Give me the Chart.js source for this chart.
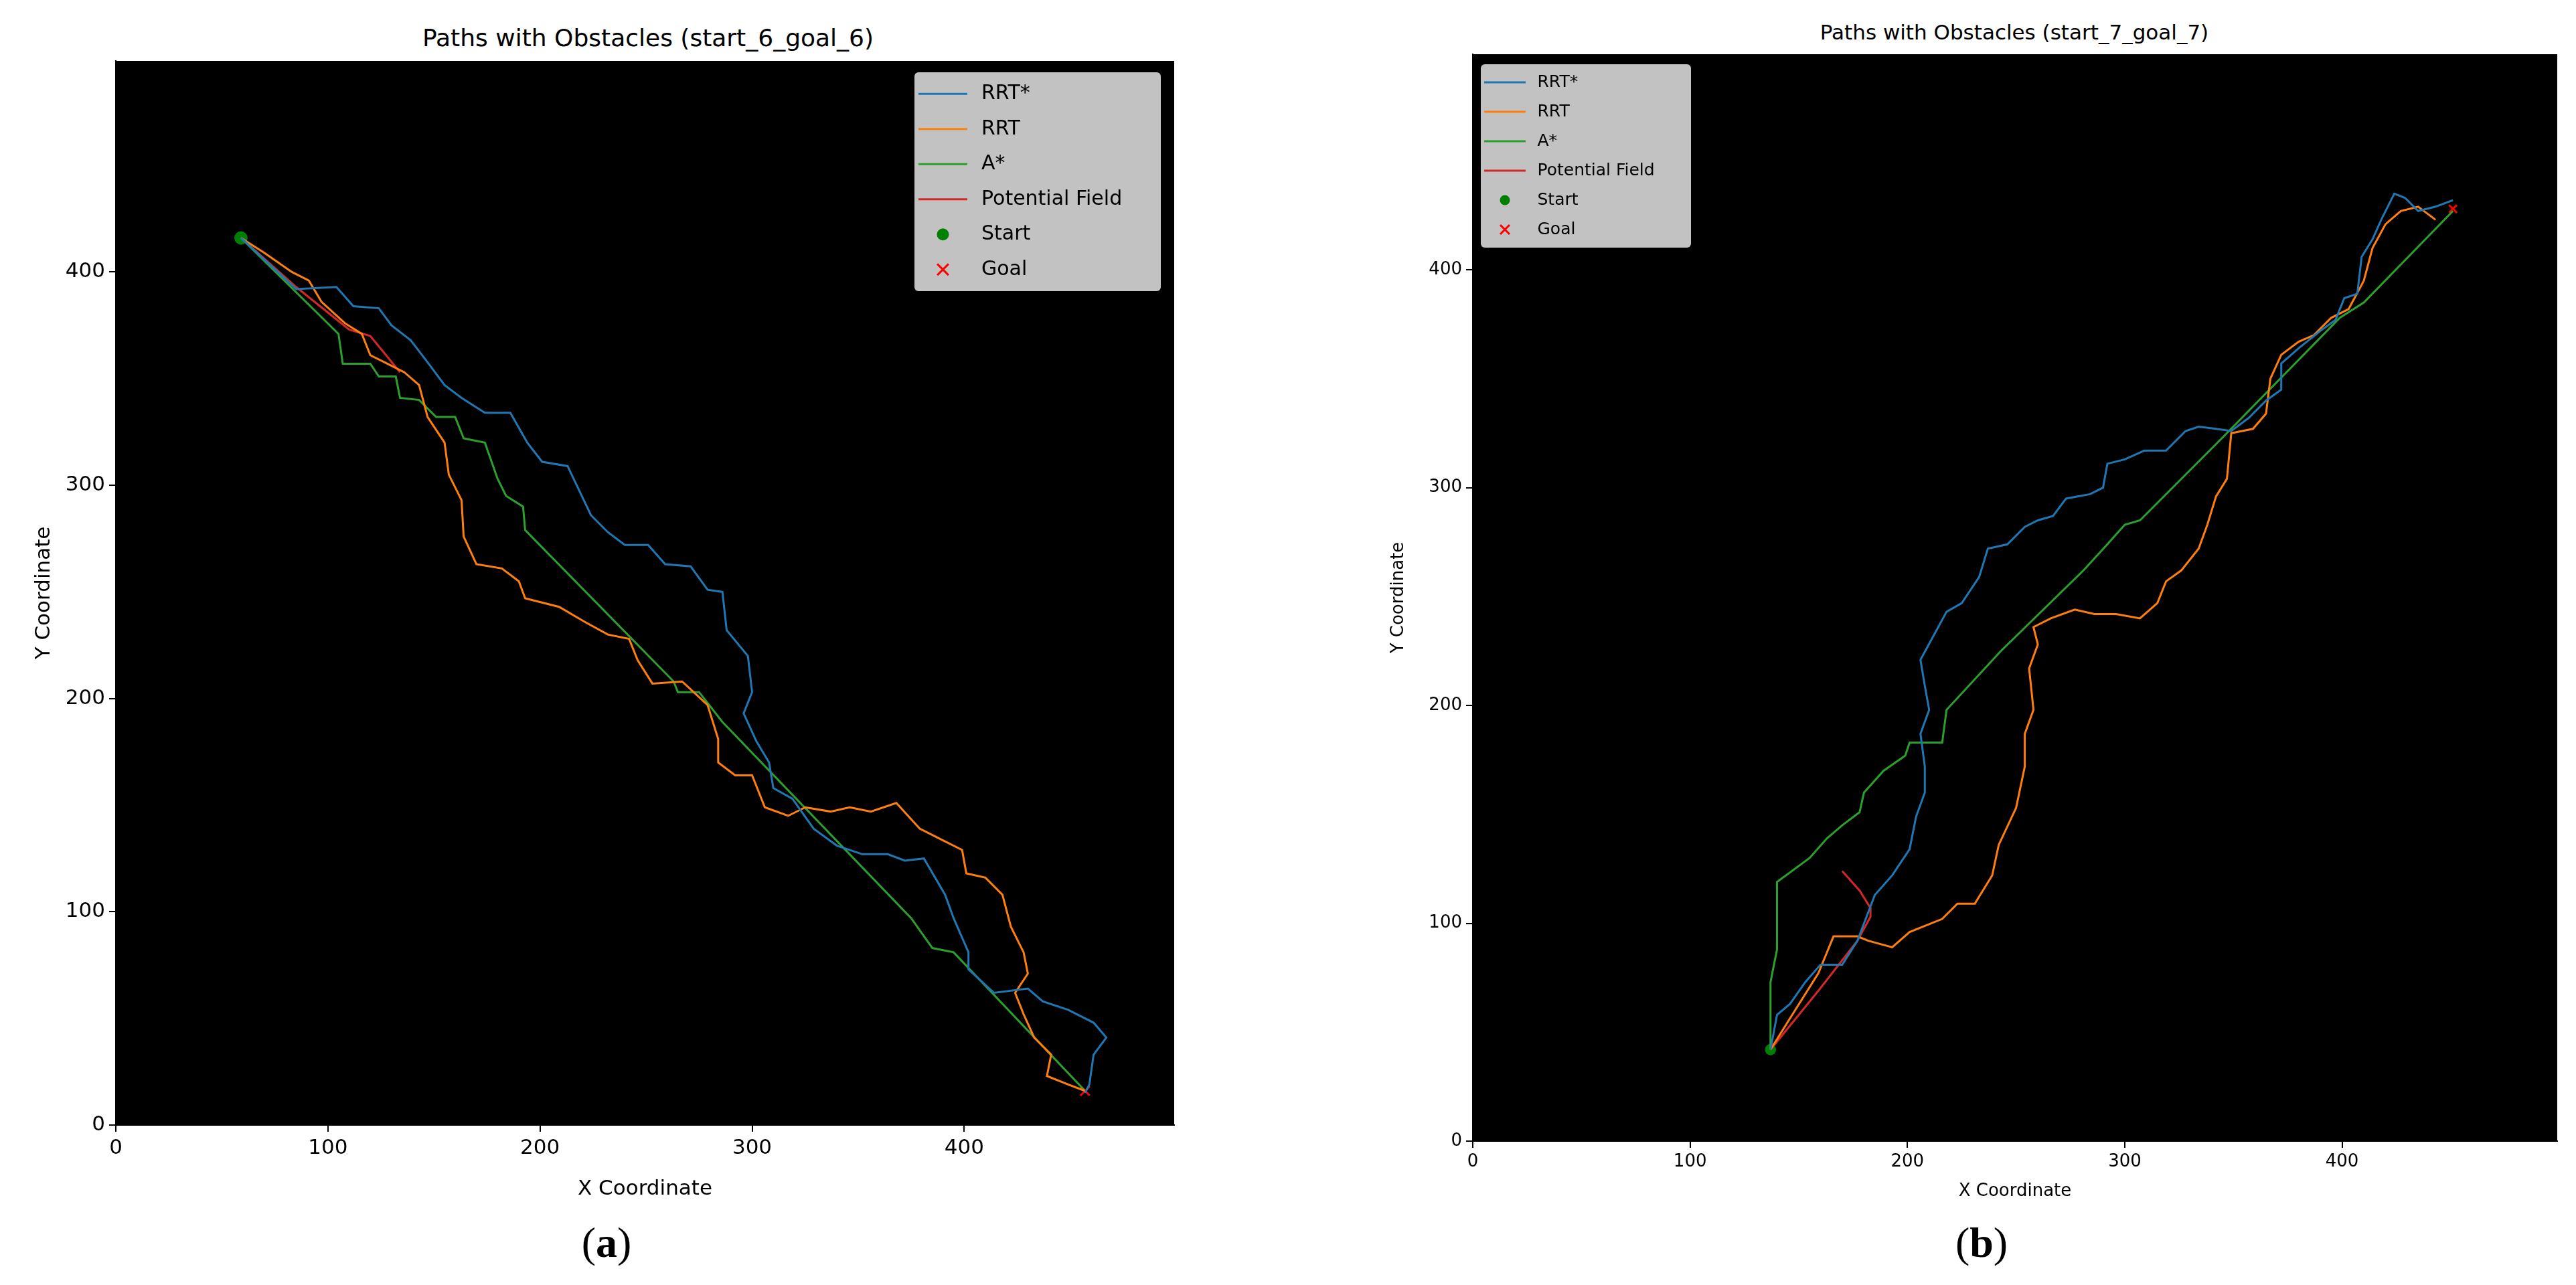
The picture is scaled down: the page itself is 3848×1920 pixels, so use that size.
<!DOCTYPE html>
<html>
<head>
<meta charset="utf-8">
<script src="https://cdn.jsdelivr.net/npm/chart.js@4.4.1/dist/chart.umd.min.js"></script>
<style>
  body { margin: 0; background: #fff; width: 3848px; height: 1920px; position: relative; overflow: hidden; }
  .box { position: absolute; }
  .title { position: absolute; font-family: "DejaVu Sans"; color: #000; transform: translateX(-50%); white-space: nowrap; }
  .cap { position: absolute; font-family: "Liberation Serif"; font-size: 64px; transform: translateX(-50%); }
</style>
</head>
<body>
<div class="title" style="left:968px; top:36px; font-size:36px;">Paths with Obstacles (start_6_goal_6)</div>
<div class="title" style="left:3009px; top:30px; font-size:31px;">Paths with Obstacles (start_7_goal_7)</div>
<div class="box" style="left:0; top:0; width:1860px; height:1800px;"><canvas id="chartA"></canvas></div>
<div class="box" style="left:1924px; top:0; width:1924px; height:1800px;"><canvas id="chartB"></canvas></div>
<div class="cap" style="left:906px; top:1820px;">(<b>a</b>)</div>
<div class="cap" style="left:2960px; top:1820px;">(<b>b</b>)</div>
<script>
// ---- chart (a): start_6_goal_6 ----
const rrtStarA = [[59,416],[85,392],[104,393],[112,384],[124,383],[130,375],[139,368],[146,359],[155,347],[163,341],[174,334],[186,334],[194,320],[201,311],[213,309],[224,286],[232,278],[240,272],[251,272],[259,263],[271,262],[279,251],[286,250],[288,232],[298,220],[300,203],[296,193],[302,180],[308,170],[310,158],[319,153],[329,139],[340,131],[352,127],[364,127],[372,124],[381,125],[391,108],[395,97],[402,81],[402,73],[414,62],[430,64],[437,58],[449,54],[461,48],[467,41],[461,33],[459,19],[457,15]];
const rrtA = [[59,416],[70,409],[83,400],[91,396],[97,386],[108,376],[116,371],[120,361],[128,357],[136,353],[143,347],[147,332],[155,320],[157,305],[163,293],[164,276],[170,263],[182,261],[190,255],[193,247],[209,243],[221,236],[232,230],[242,228],[246,218],[253,207],[267,208],[279,197],[284,181],[284,170],[292,164],[300,164],[306,149],[317,145],[325,149],[337,147],[346,149],[356,147],[368,151],[379,139],[387,135],[399,129],[401,118],[410,116],[418,108],[422,93],[428,81],[430,71],[424,62],[428,52],[433,41],[441,33],[439,23],[449,19],[457,16]];
const aStarA = [[59,416],[105,371],[107,357],[120,357],[124,351],[132,351],[134,341],[143,340],[151,332],[160,332],[164,322],[174,320],[180,303],[184,295],[192,290],[193,279],[263,208],[265,203],[275,203],[286,189],[375,97],[385,83],[395,81],[457,16]];
const fieldA = [[59,416],[85,393],[100,381],[110,373],[120,370],[134,353]];
const startA = [59, 416];
const goalA = [457, 16];

// ---- chart (b): start_7_goal_7 ----
const rrtStarB = [[137,42],[140,58],[146,63],[153,73],[160,81],[170,81],[177,92],[185,113],[193,122],[201,134],[204,149],[208,160],[208,172],[206,187],[210,198],[208,209],[206,221],[212,232],[218,243],[225,247],[233,259],[237,272],[246,274],[254,282],[260,285],[267,287],[273,295],[284,297],[290,300],[292,311],[300,313],[309,317],[319,317],[328,326],[334,328],[342,327],[349,326],[357,332],[365,340],[372,345],[372,357],[380,364],[390,372],[397,377],[401,387],[407,389],[409,406],[414,414],[418,423],[424,435],[429,433],[435,427],[443,429],[451,432]];
const rrtB = [[137,42],[147,58],[159,77],[166,94],[177,94],[182,92],[193,89],[201,96],[216,102],[223,109],[231,109],[239,122],[242,136],[250,153],[254,172],[254,187],[258,198],[256,217],[260,228],[258,236],[266,240],[277,244],[286,242],[296,242],[307,240],[315,247],[319,257],[326,262],[334,272],[338,283],[342,296],[347,304],[349,325],[359,327],[365,334],[367,350],[372,361],[380,367],[387,370],[395,378],[403,382],[410,395],[414,410],[420,421],[427,427],[435,429],[443,423]];
const aStarB = [[137,42],[137,73],[140,88],[140,119],[155,130],[163,139],[170,145],[178,151],[180,160],[189,170],[199,177],[201,183],[216,183],[218,198],[243,225],[281,262],[292,274],[300,283],[307,285],[345,323],[399,378],[410,385],[451,427]];
const fieldB = [[137,42],[159,69],[177,92],[183,103],[183,107],[178,115],[170,124]];
const startB = [137, 42];
const goalB = [451, 428];

const seriesNames = ['RRT*', 'RRT', 'A*', 'Potential Field', 'Start', 'Goal'];
const seriesColors = ['#1f77b4', '#ff7f0e', '#2ca02c', '#d62728', '#008000', '#ff0000'];
const tickValues = [0, 100, 200, 300, 400];

const toXY = arr => arr.map(p => ({ x: p[0], y: p[1] }));

// black image background + legend box drawn on the canvas
const plotPlugin = {
  id: 'plotPlugin',
  beforeDatasetsDraw(chart) {
    const a = chart.chartArea, c = chart.ctx;
    c.save(); c.fillStyle = '#000'; c.fillRect(a.left, a.top, a.right - a.left, a.bottom - a.top); c.restore();
  },
  afterDraw(chart) {
    const o = chart.options.plugins.plotPlugin, a = chart.chartArea, c = chart.ctx;
    const x0 = o.side === 'right' ? a.right - o.offX - o.w : a.left + o.offX;
    const y0 = a.top + o.offY;
    c.save();
    c.fillStyle = 'rgba(204,204,204,0.95)';
    c.beginPath(); c.roundRect(x0, y0, o.w, o.row * 6 + o.pad * 2, 6); c.fill();
    c.font = o.font + 'px "DejaVu Sans"'; c.textBaseline = 'middle';
    seriesNames.forEach((n, i) => {
      const cy = y0 + o.pad + o.row * (i + 0.5);
      const lx = x0 + o.pad;
      c.strokeStyle = seriesColors[i]; c.fillStyle = seriesColors[i]; c.lineWidth = 3;
      if (i < 4) {
        c.beginPath(); c.moveTo(lx, cy); c.lineTo(lx + o.len, cy); c.stroke();
      } else if (i === 4) {
        c.beginPath(); c.arc(lx + o.len / 2, cy, o.font * 0.3, 0, Math.PI * 2); c.fill();
      } else {
        const r = o.font * 0.28, mx = lx + o.len / 2;
        c.beginPath(); c.moveTo(mx - r, cy - r); c.lineTo(mx + r, cy + r); c.moveTo(mx + r, cy - r); c.lineTo(mx - r, cy + r); c.stroke();
      }
      c.fillStyle = '#000';
      c.fillText(n, lx + o.len + o.font * 0.7, cy);
    });
    c.restore();
  }
};

function makeChart(id, paths, start, goal, cfg) {
  const ds = paths.map((p, i) => ({
    label: seriesNames[i], data: toXY(p), showLine: true, borderColor: seriesColors[i],
    backgroundColor: seriesColors[i], borderWidth: 3, pointRadius: 0, tension: 0
  }));
  ds.push({ label: 'Start', data: toXY([start]), pointRadius: cfg.font * 0.32, pointBackgroundColor: seriesColors[4], pointBorderWidth: 0 });
  ds.push({ label: 'Goal', data: toXY([goal]), pointStyle: 'crossRot', pointRadius: cfg.font * 0.32, pointBorderColor: seriesColors[5], pointBorderWidth: 3 });
  const tickFont = { family: 'DejaVu Sans', size: cfg.font };
  const axis = (label, fit) => ({
    type: 'linear', min: 0, max: 499,
    afterBuildTicks: s => { s.ticks = tickValues.map(v => ({ value: v })); },
    ticks: { color: '#000', font: tickFont, padding: 6 },
    grid: { drawOnChartArea: false, drawTicks: true, tickLength: 10, color: '#000', lineWidth: 2 },
    border: { color: '#000', width: 2 },
    title: { display: true, text: label, color: '#000', font: tickFont },
    afterFit: fit
  });
  return new Chart(document.getElementById(id), {
    type: 'scatter',
    data: { datasets: ds },
    plugins: [plotPlugin],
    options: {
      responsive: true, maintainAspectRatio: false, animation: false,
      layout: { padding: cfg.padding },
      plugins: { legend: { display: false }, tooltip: { enabled: false }, plotPlugin: cfg.legend },
      scales: {
        x: axis('X Coordinate', s => { s.height = cfg.xh; }),
        y: axis('Y Coordinate', s => { s.width = cfg.yw; })
      }
    }
  });
}

makeChart('chartA', [rrtStarA, rrtA, aStarA, fieldA], startA, goalA, {
  font: 31, xh: 119, yw: 130,
  padding: { left: 43, right: 106, top: 91, bottom: 0 },
  legend: { side: 'right', offX: 20, offY: 17, w: 368, row: 52.5, pad: 6, len: 73, font: 30 }
});
makeChart('chartB', [rrtStarB, rrtB, aStarB, fieldB], startB, goalB, {
  font: 26, xh: 95, yw: 130,
  padding: { left: 146, right: 28, top: 81, bottom: 0 },
  legend: { side: 'left', offX: 12, offY: 15, w: 314, row: 44, pad: 5, len: 62, font: 25 }
});
</script>
</body>
</html>
